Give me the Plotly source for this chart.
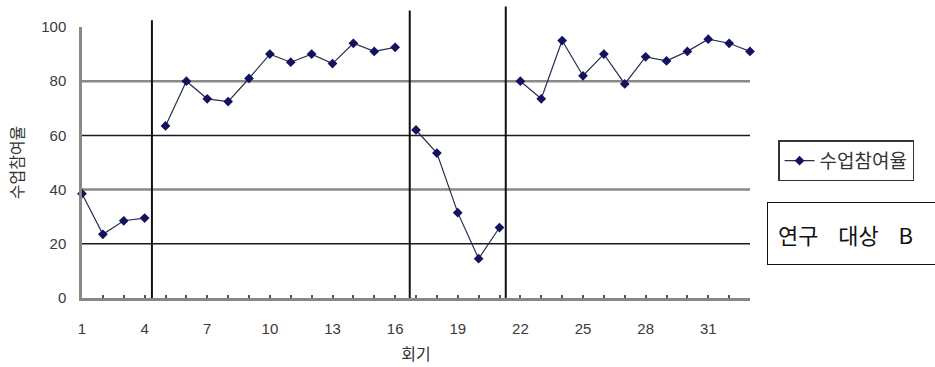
import plotly.graph_objects as go

# 회기별 수업참여율 (연구 대상 B)
sessions = list(range(1, 34))
participation = [38.5, 23.5, 28.5, 29.5,
                 63.5, 80, 73.5, 72.5, 81, 90, 87, 90, 86.5, 94, 91, 92.5,
                 62, 53.5, 31.5, 14.5, 26,
                 80, 73.5, 95, 82, 90, 79, 89, 87.5, 91, 95.5, 94, 91]
# phase of each session (A1, B1, A2, B2)
phase = [0] * 4 + [1] * 12 + [2] * 5 + [3] * 12
# phase-change lines and how far above the plot they reach (paper units)
phase_lines = [4.35, 16.7, 21.3]
phase_line_tops = [1.025, 1.061, 1.076]
y_grid = [20, 40, 60, 80]
x_ticks = list(range(1, 34, 3))

# break the line between phases
xs, ys = [], []
for i, (s, v) in enumerate(zip(sessions, participation)):
    if i > 0 and phase[i] != phase[i - 1]:
        xs.append(None)
        ys.append(None)
    xs.append(s)
    ys.append(v)

fig = go.Figure()
fig.add_trace(go.Scatter(
    x=xs, y=ys, mode="lines+markers", name="수업참여율",
    connectgaps=False, cliponaxis=False,
    line=dict(color="#2c2c52", width=1.2),
    marker=dict(symbol="diamond", size=7.5, color="#12125e"),
))

shapes = []
for i, v in enumerate(y_grid):
    grey = (v % 40 == 0)
    shapes.append(dict(type="line", xref="paper", yref="y", x0=0, x1=1, y0=v, y1=v,
                       line=dict(color="#8a8a8a" if grey else "#1a1a1a",
                                 width=2.5 if grey else 1.5),
                       layer="below"))
for xv, top in zip(phase_lines, phase_line_tops):
    shapes.append(dict(type="line", xref="x", yref="paper", x0=xv, x1=xv, y0=0, y1=top,
                       line=dict(color="#111111", width=2)))

tick_font = dict(family="Liberation Sans, Arial, sans-serif", size=15, color="#3a3a3a")
kr = "Noto Sans CJK KR"

fig.update_layout(
    width=935, height=367,
    margin=dict(l=82, r=185, t=27, b=69, autoexpand=False),
    paper_bgcolor="white", plot_bgcolor="white",
    shapes=shapes,
    showlegend=True,
    legend=dict(x=1.042, y=0.582, xanchor="left", yanchor="top",
                bordercolor="#333333", borderwidth=1.5, bgcolor="white",
                font=dict(family=kr, size=19, color="#333333"),
                itemwidth=30, tracegroupgap=0),
    xaxis=dict(range=[1, 33], tickmode="array", tickvals=x_ticks,
               ticks="inside", ticklen=3, tickcolor="#555555", tickwidth=1.5,
               minor=dict(dtick=1, tick0=1, ticks="inside", ticklen=3,
                          tickcolor="#555555", tickwidth=1.5),
               showgrid=False, zeroline=False, automargin=False,
               showline=True, linecolor="#888888", linewidth=2.5,
               tickfont=tick_font, ticklabelstandoff=15,
               title=dict(text="회기", font=dict(family=kr, size=16, color="#333333"),
                          standoff=14)),
    yaxis=dict(range=[0, 100], dtick=20, ticks="", showgrid=False, zeroline=False,
               showline=True, linecolor="#888888", linewidth=2.5, automargin=False,
               tickfont=tick_font, ticklabelstandoff=10,
               title=dict(text="수업참여율", font=dict(family=kr, size=16, color="#333333"),
                          standoff=14)),
    annotations=[dict(
        text="연구\u00a0\u00a0\u00a0\u00a0대상\u00a0\u00a0\u00a0\u00a0B", xref="paper", yref="paper",
        x=1.0254, y=(298.3 - 202) / 271.3, xanchor="left", yanchor="top",
        showarrow=False, align="left", width=160, height=41, borderpad=10,
        bordercolor="#111111", borderwidth=1, bgcolor="white",
        font=dict(family=kr, size=22, color="#111111"),
    )],
)

fig.write_html("out.html")
